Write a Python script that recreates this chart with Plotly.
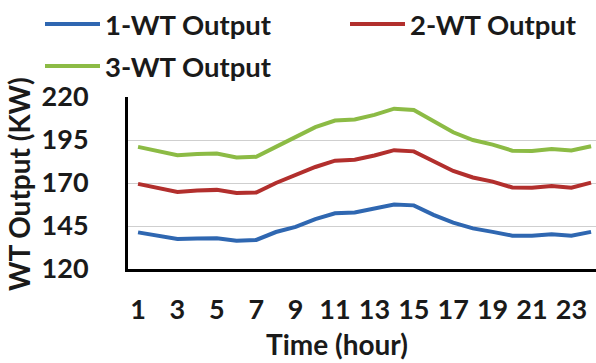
import plotly.graph_objects as go

hours = list(range(1, 25))
wt1 = [141.3, 139.3, 137.4, 137.8, 137.9, 136.4, 136.9, 141.5, 144.5, 149.0, 152.4, 152.9,
       155.0, 157.5, 157.0, 151.5, 147.0, 143.6, 141.6, 139.4, 139.3, 140.2, 139.4, 141.6]
wt2 = [169.5, 167.0, 164.8, 165.6, 166.0, 164.2, 164.5, 170.0, 174.5, 179.3, 183.0, 183.5,
       186.0, 189.1, 188.4, 182.4, 177.0, 173.2, 170.8, 167.4, 167.2, 168.2, 167.3, 170.2]
wt3 = [191.0, 188.5, 186.2, 186.8, 187.1, 184.8, 185.2, 191.0, 196.5, 202.5, 206.3, 206.9,
       209.6, 213.2, 212.4, 205.8, 199.5, 195.0, 192.3, 188.8, 188.6, 189.8, 188.9, 191.4]
names = ["1-WT Output", "2-WT Output", "3-WT Output"]
colors = ["#2f67b1", "#b22f2d", "#8cbb45"]
legend_ids = ["legend", "legend2", "legend3"]
y_ticks = [120, 145, 170, 195, 220]
x_ticks = list(range(1, 24, 2))

FONT = "Lato"
TXT = "#1a1a1a"
W, H = 596, 363
ml, mr, mt, mb = 128, 0, 97, 94
pw, ph = W - ml - mr, H - mt - mb

fig = go.Figure()
for name, vals, col, lg in zip(names, [wt1, wt2, wt3], colors, legend_ids):
    fig.add_trace(go.Scatter(x=hours, y=vals, mode="lines", name=name, legend=lg,
                             line=dict(color=col, width=4)))

leg_font = dict(family=FONT, size=27.5, color=TXT, weight="bold")
leg_common = dict(orientation="h", xref="container", yref="container",
                  xanchor="left", yanchor="middle", font=leg_font,
                  itemwidth=55, bgcolor="rgba(0,0,0,0)", borderwidth=0)

fig.update_layout(
    width=W, height=H,
    margin=dict(l=ml, r=mr, t=mt, b=mb, autoexpand=False),
    paper_bgcolor="white", plot_bgcolor="white",
    font=dict(family=FONT, color=TXT, size=26),
    showlegend=True,
    legend=dict(x=40 / W, y=1 - 24 / H, **leg_common),
    legend2=dict(x=345 / W, y=1 - 24 / H, **leg_common),
    legend3=dict(x=40 / W, y=1 - 66 / H, **leg_common),
    xaxis=dict(range=[0.49, 24.25], tickmode="array", tickvals=x_ticks,
               ticktext=[str(v) for v in x_ticks], showgrid=False, zeroline=False,
               showline=True, linecolor="black", linewidth=3, ticks="",
               ticklabelstandoff=15,
               tickfont=dict(family=FONT, size=27, color=TXT, weight="bold")),
    yaxis=dict(range=[120, 220], tickmode="array", tickvals=y_ticks,
               ticktext=[str(v) for v in y_ticks], showgrid=True, gridcolor="#cfcfcf",
               gridwidth=1, zeroline=False, showline=True, linecolor="black",
               linewidth=3, ticks="", ticklabelstandoff=31,
               tickfont=dict(family=FONT, size=27, color=TXT, weight="bold")),
    annotations=[
        dict(text="Time (hour)", x=(337 - ml) / pw, y=(H - mb - 344) / ph,
             xref="paper", yref="paper", xanchor="center", yanchor="middle",
             showarrow=False, borderpad=0,
             font=dict(family=FONT, size=28, color=TXT, weight="bold")),
        dict(text="WT Output (KW)", x=(19 - ml) / pw, y=(H - mb - 184) / ph,
             xref="paper", yref="paper", xanchor="center", yanchor="middle",
             showarrow=False, textangle=-90, borderpad=0,
             font=dict(family=FONT, size=28, color=TXT, weight="bold")),
    ],
)

fig.write_html("out.html")
